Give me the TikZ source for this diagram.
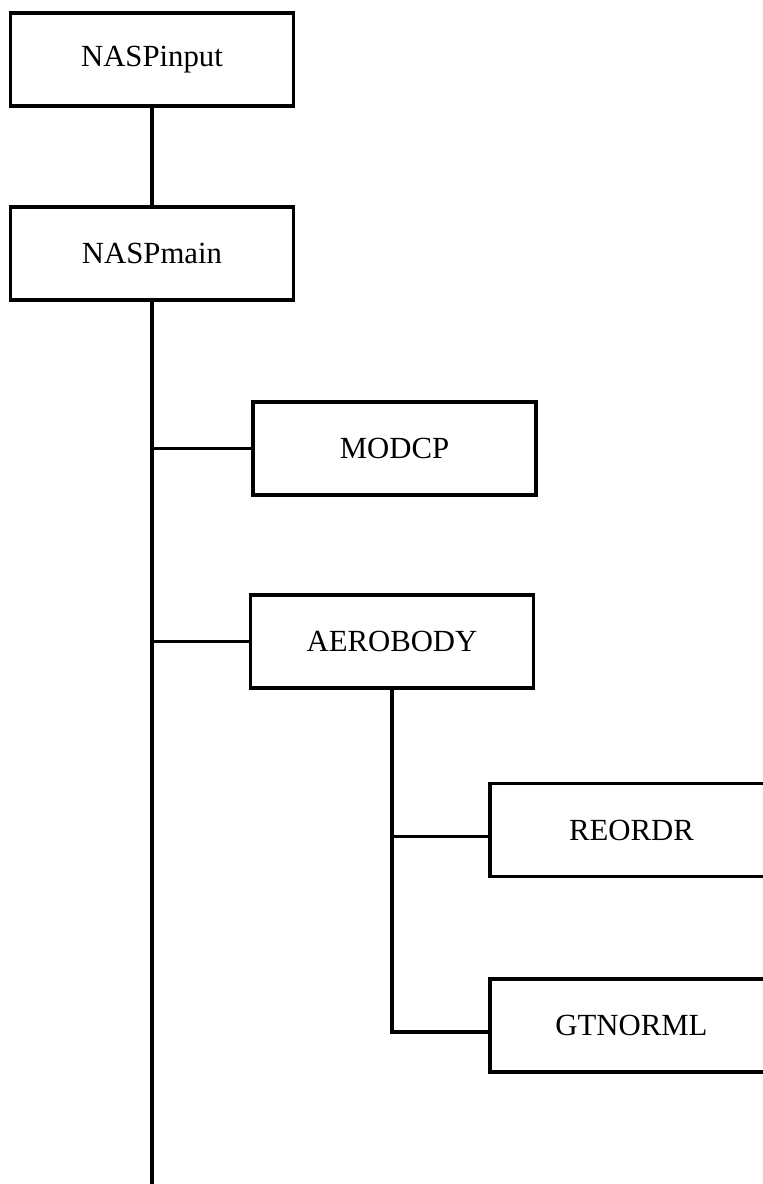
\documentclass[tikz,border=0pt]{standalone}
\usepackage{fontspec}
\setmainfont{Liberation Serif}

\begin{document}
\begin{tikzpicture}[x=0.02cm, y=-0.02cm,
	routine/.style={draw, line width=2pt, minimum width=5.66cm, minimum height=1.86cm, inner sep=0pt, font=\fontsize{17.5}{21}\selectfont},
	link/.style={line width=2pt}]
 	\def\pageW{763} % Width of the picture
 	\def\pageH{1184} % Height of the picture
 	\def\drop{0.13cm} % Calls to the deepest routines sit a little low
 	
 	% Fix the frame (the right boxes run past it)
 	\clip (0, 0) rectangle (\pageW, \pageH);
 	
 	% Place the routines
 	\node[routine] (input) at (152, 59.5) {NASPinput};
 	\node[routine] (main) at (152, 253.5) {NASPmain};
 	\node[routine] (modcp) at (394.5, 448.5) {MODCP};
 	\node[routine] (aero) at (392, 641.5) {AEROBODY};
 	\node[routine] (reordr) at (631.5, 830) {REORDR};
 	\node[routine] (gtnorml) at (631.5, 1025.5) {GTNORML};
 	
 	% End of the main trunk
 	\coordinate (trunkEnd) at (main.south |- 0, \pageH);
 	
 	% Draw the calls
 	\draw[link] (input) -- (main);
 	\draw[link] (main.south) -- (trunkEnd);
 	\draw[link] (modcp.west -| main.south) -- (modcp.west);
 	\draw[link] (aero.west -| main.south) -- (aero.west);
 	\draw[link] (aero.south) |- ([yshift=-\drop]gtnorml.west);
 	\draw[link] ([yshift=-\drop]reordr.west -| aero.south) -- ([yshift=-\drop]reordr.west);
 	
\end{tikzpicture}
\end{document}
